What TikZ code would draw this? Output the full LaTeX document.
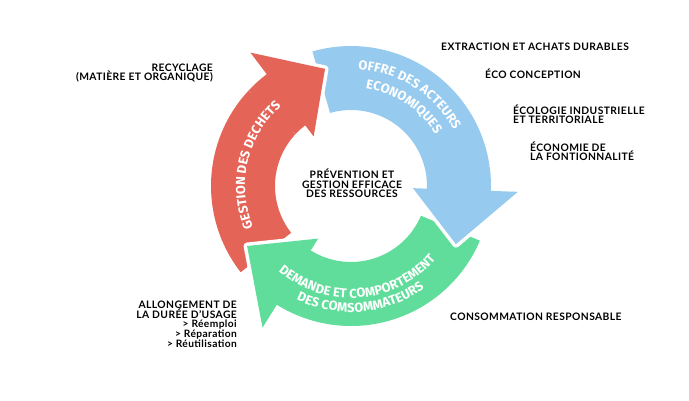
\documentclass[tikz,border=0pt]{standalone}
\usepackage{fontspec}
\setmainfont{Lato}[LetterSpace=4]
\newfontfamily\bandfamily{Fira Sans}
\usetikzlibrary{decorations.text}
\definecolor{cred}{RGB}{229,100,88}
\definecolor{cblue}{RGB}{150,202,239}
\definecolor{cgreen}{RGB}{96,221,154}
\newcommand\bandfont{\fontsize{13}{13}\selectfont\bandfamily\bfseries}
\newcommand\arrowshape[3]{(#1:140) arc[start angle=#1, end angle=#2, radius=140] -- (#2:167) -- (#3:120) -- (#2:62) -- (#2:76) arc[start angle=#2, end angle=#1, radius=76] -- cycle}
\newcommand\headover[4]{%
  \begin{scope}
    \clip (0,0) -- (#2+10:220) arc[start angle=#2+10, end angle=#3-12, radius=220] -- cycle;
    \draw[white, line width=7pt, line join=round] \arrowshape{#1}{#2}{#3};
    \fill[#4] \arrowshape{#1}{#2}{#3};
  \end{scope}}
\tikzset{
  lbl/.style={font=\fontsize{10.3}{10.3}\selectfont\bfseries, inner sep=0pt, text=black},
  sub/.style={font=\fontsize{10.2}{10.2}\selectfont\bfseries, inner sep=0pt, text=black},
  bandtext/.style={decorate, decoration={text along path, text={|\bandfont|#1}, text align=center, text color=white}}
}
\begin{document}
\begin{tikzpicture}[x=1pt,y=1pt]
\useasboundingbox (0,0) rectangle (689,-400);
\begin{scope}[shift={(351,-186)}]
  \fill[cred] \arrowshape{218}{127}{102.5};
  \fill[cblue] \arrowshape{106}{-2}{-29};
  \fill[cgreen] \arrowshape{337}{238}{210};
  \headover{218}{127}{102.5}{cred}
  \headover{106}{-2}{-29}{cblue}
  \headover{337}{238}{210}{cgreen}
  \path[bandtext={GESTION DES DECHETS}] (230:106) arc[start angle=230, end angle=104, radius=106];
  \path[bandtext={OFFRE DES ACTEURS}] (110:117) arc[start angle=110, end angle=5, radius=117];
  \path[bandtext={ECONOMIQUES}] (110:99) arc[start angle=110, end angle=3, radius=99];
  \path[bandtext={DEMANDE ET COMPORTEMENT}] (214.5:112) arc[start angle=214.5, end angle=334.5, radius=112];
  \path[bandtext={DES COMSOMMATEURS}] (215:126) arc[start angle=215, end angle=335, radius=126];
\end{scope}
% centre
\node[lbl, anchor=base] (c1) at (352,-178.6) {PRÉVENTION ET};
\node[lbl, anchor=base] (c2) at (352,-188.3) {GESTION EFFICACE};
\node[lbl, anchor=base] (c3) at (352,-197.6) {DES RESSOURCES};
% right
\node[lbl, anchor=base west] (e1) at (441,-50.6) {EXTRACTION ET ACHATS DURABLES};
\node[lbl, anchor=base west] (e2) at (485,-78.6) {ÉCO CONCEPTION};
\node[lbl, anchor=base west] (e3) at (513,-114.6) {ÉCOLOGIE INDUSTRIELLE};
\node[lbl, anchor=base west] (e4) at (513,-123.6) {ET TERRITORIALE};
\node[lbl, anchor=base west] (e5) at (530,-151.6) {ÉCONOMIE DE};
\node[lbl, anchor=base west] (e6) at (530,-160.6) {LA FONTIONNALITÉ};
\node[lbl, anchor=base west] (e7) at (450,-320.6) {CONSOMMATION RESPONSABLE};
% left
\node[lbl, anchor=base east] (r1) at (213,-71) {RECYCLAGE};
\node[lbl, anchor=base east] (r2) at (213,-80) {(MATIÈRE ET ORGANIQUE)};
\node[lbl, anchor=base east] (a1) at (237,-308.6) {ALLONGEMENT DE};
\node[lbl, anchor=base east] (a2) at (237,-318.6) {LA DURÉE D'USAGE};
\node[sub, anchor=base east] (a3) at (237,-327.8) {> Réemploi};
\node[sub, anchor=base east] (a4) at (237,-337.8) {> Réparation};
\node[sub, anchor=base east] (a5) at (237,-347.8) {> Réutilisation};
\end{tikzpicture}
\end{document}
